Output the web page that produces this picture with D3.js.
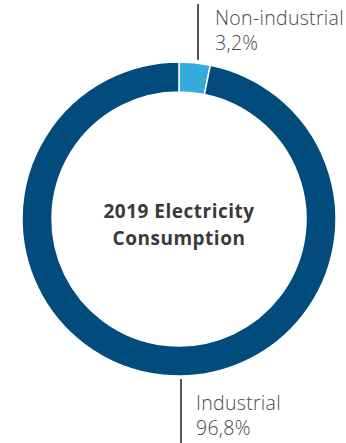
<!DOCTYPE html>
<html>
<head>
<meta charset="utf-8">
<script src="https://cdn.jsdelivr.net/npm/d3@7"></script>
<style>
  html, body { margin: 0; padding: 0; background: #fff; overflow: hidden; }
  svg { display: block; }
</style>
</head>
<body>
<svg id="chart" width="346" height="443"></svg>
<script>
// Electricity consumption shares, 2019
const categories = ["Non-industrial", "Industrial"];
const shares = [3.2, 96.8];
const valueLabels = ["3,2%", "96,8%"];
const colors = ["#34abdb", "#014c7c"];
const title = ["2019 Electricity", "Consumption"];

const svg = d3.select("#chart");
const cx = 179, cy = 219, outerR = 157, innerR = 127;

const pie = d3.pie().sort(null).value(d => d.value);
const arc = d3.arc().innerRadius(innerR).outerRadius(outerR);
const data = categories.map((c, i) => ({ name: c, value: shares[i], color: colors[i], label: valueLabels[i] }));
const arcs = pie(data);

const g = svg.append("g").attr("transform", `translate(${cx},${cy})`);
g.selectAll("path")
  .data(arcs)
  .join("path")
  .attr("d", arc)
  .attr("fill", d => d.data.color)
  .attr("stroke", "#fff")
  .attr("stroke-width", 1.5);

// Centre title
const t = g.append("text")
  .attr("text-anchor", "middle")
  .attr("font-family", "'Open Sans', 'Noto Sans', sans-serif")
  .attr("font-weight", 700)
  .attr("font-size", 19)
  .attr("letter-spacing", 0.5)
  .attr("fill", "#3a3a3a");
t.selectAll("tspan").data(title).join("tspan")
  .attr("x", 0)
  .attr("y", (d, i) => -1 + i * 27)
  .text(d => d);

// Leader lines and labels
const labelFont = "'Open Sans', 'Noto Sans', sans-serif";
function callout(d, x1, y1, x2, y2, tx, ty) {
  svg.append("line")
    .attr("x1", x1).attr("y1", y1).attr("x2", x2).attr("y2", y2)
    .attr("stroke", "#555").attr("stroke-width", 2);
  const txt = svg.append("text")
    .attr("font-family", labelFont)
    .attr("font-weight", 300)
    .attr("font-size", 19.5)
    .attr("letter-spacing", 0.3)
    .attr("fill", "#4a4a4a");
  txt.append("tspan").attr("x", tx).attr("y", ty).text(d.data.name);
  txt.append("tspan").attr("x", tx).attr("y", ty + 25).text(d.data.label);
}

// Non-industrial: line rises from the top of the ring beside the slice
callout(arcs[0], 198, 4, 198, cy - outerR - 2, 215, 25);

// Industrial: line drops from the bottom of the ring
callout(arcs[1], 181, cy + outerR + 3, 181, 443, 196, 410);
</script>
</body>
</html>
